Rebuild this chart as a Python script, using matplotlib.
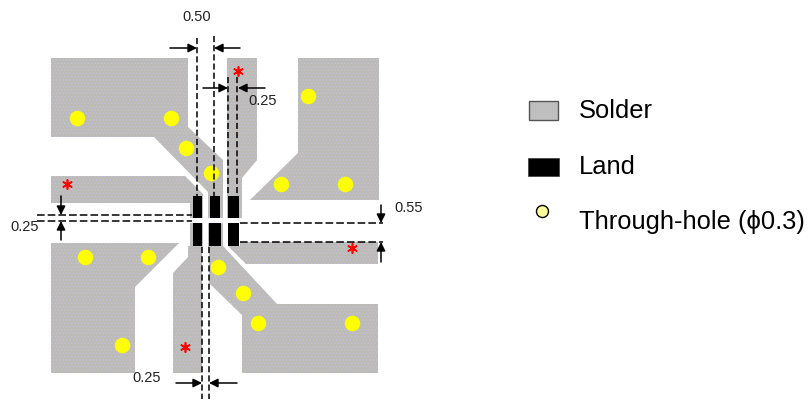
import matplotlib
matplotlib.use("Agg")
import matplotlib.pyplot as plt
from matplotlib.patches import Polygon, Rectangle

plt.rcParams['font.family'] = ['Liberation Sans', 'DejaVu Sans']
plt.rcParams['hatch.linewidth'] = 0.5

solder_polys = [
    [(51,58),(188,58),(188,127),(223,160),(223,218),(208,218),(208,192),(154,137),(51,137)],
    [(227,58),(257,58),(257,160),(242,178),(242,218),(227,218)],
    [(298,58),(379,58),(379,200),(250,200),(298,153)],
    [(51,176),(185,176),(203,194),(203,218),(190,218),(190,203),(51,203)],
    [(51,243),(179,243),(135,287),(135,373),(51,373)],
    [(188,246),(202,246),(202,373),(173,373),(173,273),(188,257)],
    [(209,246),(223,246),(277,304),(378,304),(378,373),(242,373),(242,315),(209,283)],
    [(228,246),(240,246),(240,242),(378,242),(378,264),(246,264)],
    [(190,223),(203,223),(203,247),(190,247)],
    [(208,223),(223,223),(223,247),(208,247)],
]
land_rects = [(193,196,9,22),(210,196,10,22),(228,196,11,22),
              (193,223,9,23),(209,223,12,23),(228,223,11,23)]
hole_x = [77,171,186,211,281,345,308,85,148,122,218,243,258,352]
hole_y = [118,118,148,173,184,184,96,257,257,345,267,293,323,323]
star_x = [238,67,352,185]
star_y = [71,184,248,347]
v_dash = [(197,38,196),(213.5,36,196),(228,77,196),(237,77,196),(202,247,399),(209,247,399)]
h_dash = [(215,37,192),(221,37,192),(223,240,383),(242,240,383)]
arrows = [((170,48),(197,48)),((240,48),(214,48)),
          ((203,88),(228,88)),((265,88),(238,88)),
          ((61,196),(61,215)),((61,240),(61,221)),
          ((381,205),(381,223)),((381,262),(381,242)),
          ((176,383),(202,383)),((237,383),(209,383))]
dim_labels = [("0.50",197,17),("0.25",263,101),("0.25",25,227),("0.55",409,208),("0.25",147,378)]
legend_labels = ["Solder","Land","Through-hole (\u03d50.3)"]
legend_y = [110.5,166.5,221.5]

fig = plt.figure(figsize=(8.1,4.0),dpi=100)
ax = fig.add_axes([0,0,1,1])
ax.set_xlim(0,810); ax.set_ylim(400,0); ax.axis('off')

for p in solder_polys:
    ax.add_patch(Polygon(p,closed=True,facecolor='#bcbbb7',edgecolor='#c3c3dc',hatch='.....',lw=0,zorder=1))
for x,y,w,h in land_rects:
    ax.add_patch(Rectangle((x,y),w,h,facecolor='black',edgecolor='none',zorder=3))
ax.scatter(hole_x,hole_y,s=125,c='#ffff00',linewidths=0,zorder=2)
ax.scatter(star_x,star_y,s=45,c='#ff0000',marker=(6,2,0),linewidths=1.2,zorder=4)
for x,y0,y1 in v_dash:
    ax.plot([x,x],[y0,y1],color='black',lw=1.1,dashes=(4,2),zorder=5)
for y,x0,x1 in h_dash:
    ax.plot([x0,x1],[y,y],color='black',lw=1.1,dashes=(5,2),zorder=5)
for a,b in arrows:
    ax.annotate('',xy=b,xytext=a,arrowprops=dict(arrowstyle='-|>',color='black',lw=1.1,mutation_scale=13,shrinkA=0,shrinkB=0),zorder=6)
for s,x,y in dim_labels:
    ax.text(x,y,s,ha='center',va='center',fontsize=10.5,color='#222222')

ax.add_patch(Rectangle((529,101),29,19,facecolor='#bfbfbf',edgecolor='#555555',lw=1))
ax.add_patch(Rectangle((528,158),31,18,facecolor='black',edgecolor='#444444',lw=0.6))
ax.scatter([542],[211],s=75,c='#ffff99',edgecolors='black',linewidths=1)
for s,y in zip(legend_labels,legend_y):
    ax.text(579,y,s,ha='left',va='center',fontsize=18.4,color='black')

fig.savefig('out.png',dpi=100)
